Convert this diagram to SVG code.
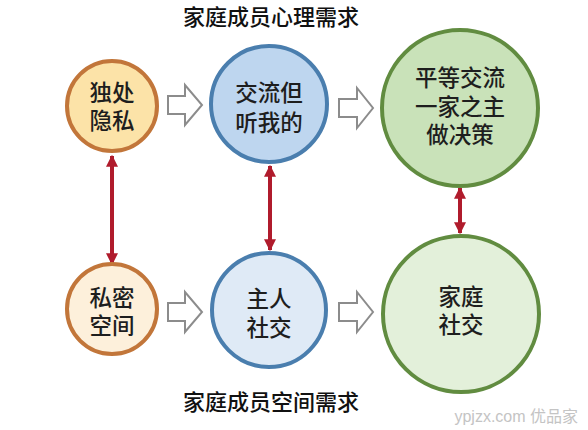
<svg xmlns="http://www.w3.org/2000/svg" width="588" height="430" viewBox="0 0 588 430">
<style>
.t{font-family:"Noto Sans CJK SC","Noto Sans",sans-serif;font-size:22.5px;font-weight:500;fill:#1e1e1e;text-anchor:middle}
.h{font-family:"Noto Sans CJK SC","Noto Sans",sans-serif;font-size:22px;font-weight:500;fill:#111;text-anchor:middle}
.or{stroke:#c2763a;stroke-width:4}
.bl{stroke:#4a7eae;stroke-width:4}
.gr{stroke:#618c40;stroke-width:4}
.ha{fill:#fff;stroke:#8c8c8c;stroke-width:2;stroke-linejoin:miter}
.ra{stroke:#b01b2c;stroke-width:4;fill:none}
</style>
<defs>
<marker id="rh" viewBox="0 0 10 10" refX="9" refY="5" markerWidth="3" markerHeight="3" orient="auto-start-reverse" markerUnits="strokeWidth">
<path d="M0,0 L10,5 L0,10 Z" fill="#b01b2c"/>
</marker>
</defs>
<rect width="588" height="430" fill="#fff"/>
<text class="h" x="271" y="25">家庭成员心理需求</text>
<text class="h" x="271" y="410">家庭成员空间需求</text>
<g id="connectors">
<polygon class="ha" points="168,96 185,96 185,85 202,105 185,125 185,114 168,114"/>
<polygon class="ha" points="339,99 357,99 357,88 373,108 357,128 357,117 339,117"/>
<polygon class="ha" points="168,303 185,303 185,292 202,312 185,332 185,321 168,321"/>
<polygon class="ha" points="339,303 357,303 357,292 373,312 357,332 357,321 339,321"/>
<line class="ra" x1="112" y1="156" x2="112" y2="264" marker-start="url(#rh)" marker-end="url(#rh)"/>
<line class="ra" x1="270" y1="166" x2="270" y2="250" marker-start="url(#rh)" marker-end="url(#rh)"/>
<line class="ra" x1="460" y1="188" x2="460" y2="233" marker-start="url(#rh)" marker-end="url(#rh)"/>
</g>
<g id="n1">
<circle class="or" cx="112" cy="106" r="45" fill="#fce3a8"/>
<text class="t"><tspan x="112" y="101">独处</tspan><tspan x="112" y="129">隐私</tspan></text>
</g>
<g id="n2">
<circle class="bl" cx="269" cy="104" r="58" fill="#bed6ef"/>
<text class="t"><tspan x="269" y="101">交流但</tspan><tspan x="269" y="131">听我的</tspan></text>
</g>
<g id="n3">
<circle class="gr" cx="460" cy="108" r="78" fill="#c9e2b9"/>
<text class="t"><tspan x="460" y="86">平等交流</tspan><tspan x="460" y="115">一家之主</tspan><tspan x="460" y="143">做决策</tspan></text>
</g>
<g id="n4">
<circle class="or" cx="112" cy="309" r="45" fill="#fdf0db"/>
<text class="t"><tspan x="112" y="306">私密</tspan><tspan x="112" y="334">空间</tspan></text>
</g>
<g id="n5">
<circle class="bl" cx="269" cy="310" r="57" fill="#dfeaf6"/>
<text class="t"><tspan x="269" y="307">主人</tspan><tspan x="269" y="336">社交</tspan></text>
</g>
<g id="n6">
<circle class="gr" cx="461" cy="314" r="78" fill="#e3f0da"/>
<text class="t"><tspan x="461" y="305">家庭</tspan><tspan x="461" y="333">社交</tspan></text>
</g>
<text x="578" y="422" text-anchor="end" font-family="'Liberation Sans','Noto Sans CJK SC',sans-serif" font-size="16" fill="#c4c4c4">ypjzx.com 优品家</text>
</svg>
